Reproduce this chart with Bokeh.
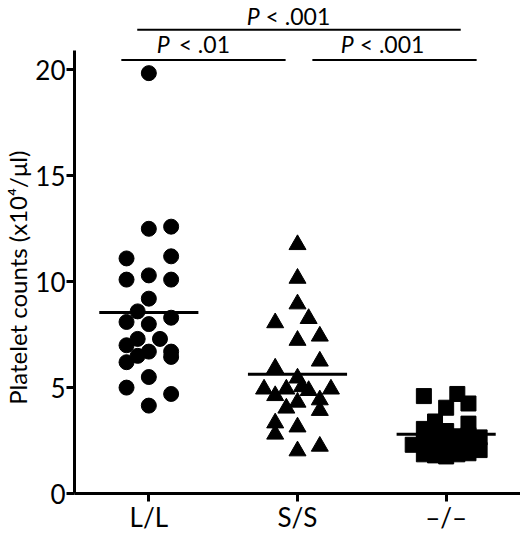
from bokeh.plotting import figure
from bokeh.models import ColumnDataSource, FixedTicker
from bokeh.core.properties import value
from bokeh.embed import file_html
from bokeh.resources import INLINE

FONT = "Lato"

# genotype groups (x positions 1, 2, 3)
groups = ["L/L", "S/S", "\u2013/\u2013"]
group_pos = [1, 2, 3]

# platelet counts (x10^4/ul), with the horizontal jitter
ll_counts = [19.85, 12.5, 12.6, 11.1, 11.2, 10.1, 10.3, 10.1, 9.2, 8.6, 8.1, 8.0, 8.3,
             7.3, 7.3, 7.0, 6.7, 6.5, 6.7, 6.45, 6.2, 5.5, 5.0, 4.7, 4.15]
ll_jitter = [0, 0, .15, -.15, .15, -.15, 0, .15, 0, -.075, -.15, 0, .15,
             -.075, .075, -.15, 0, -.075, .15, .15, -.15, 0, -.15, .15, 0]

ss_counts = [11.75, 10.16, 8.95, 8.26, 8.06, 7.43, 7.23, 6.25, 5.92, 5.45, 5.04, 4.93, 4.93,
             4.86, 4.93, 4.62, 4.42, 4.31, 4.03, 3.92, 3.33, 3.14, 2.80, 2.01, 2.23]
ss_jitter = [0, 0, 0, .075, -.15, .15, 0, .15, -.15, 0, .03, -.225, -.075,
             .075, .225, -.15, .15, 0, -.075, .15, -.15, 0, -.15, 0, .15]

ko_counts = [2.3, 4.6, 3.05, 2.5, 1.85, 3.4, 2.75, 2.2, 1.8, 4.05, 2.95, 2.45, 1.75,
             4.7, 2.7, 2.2, 1.85, 4.25, 3.3, 2.75, 2.3, 1.9, 2.65, 2.05, 2.6]
ko_jitter = [-.225, -.15, -.15, -.15, -.15, -.075, -.075, -.075, -.075, 0, 0, 0, 0,
             .075, .075, .075, .075, .15, .15, .15, .15, .15, .225, .225, .04]

group_means = [8.55, 5.63, 2.8]

# significance brackets
bracket_x0 = [0.922, 0.815, 2.100]
bracket_x1 = [3.098, 1.920, 3.205]
bracket_y = [21.9, 20.47, 20.47]
bracket_label_x = [1.745, 1.140, 2.378]
bracket_label_y = [22.56, 21.22, 21.22]
bracket_p = ["< .001", "< .01", "< .001"]

p = figure(width=520, height=535, x_range=(0.5, 3.5), y_range=(0, 23.28),
           output_backend="svg", toolbar_location=None,
           min_border_left=72, min_border_right=0, min_border_top=0, min_border_bottom=38)
p.background_fill_color = "white"
p.border_fill_color = "white"
p.outline_line_color = None
p.xgrid.grid_line_color = None
p.ygrid.grid_line_color = None

series = [(ll_counts, ll_jitter, "circle", 15),
          (ss_counts, ss_jitter, "triangle", 17),
          (ko_counts, ko_jitter, "square", 15)]
for g, (counts, jitter, marker, size) in zip(group_pos, series):
    src = ColumnDataSource(data={
        'x': [g + j for j in jitter],
        'y': counts
    })
    p.scatter('x', 'y', source=src, marker=marker, size=size,
              fill_color="black", line_color="black")

# mean lines
p.segment(x0=[g - 1/3 for g in group_pos], x1=[g + 1/3 for g in group_pos],
          y0=group_means, y1=group_means, line_color="black", line_width=3)

# brackets and P values
p.segment(x0=bracket_x0, x1=bracket_x1, y0=bracket_y, y1=bracket_y,
          line_color="black", line_width=2)
p.text(x=bracket_label_x, y=bracket_label_y, text=["P"] * 3, text_font=value(FONT),
       text_font_style="italic", text_font_size="23px", text_align="right",
       text_baseline="alphabetic", text_color="black")
p.text(x=bracket_label_x, y=bracket_label_y, text=bracket_p, x_offset=[6, 9, 6],
       text_font=value(FONT), text_font_size="23px", text_align="left",
       text_baseline="alphabetic", text_color="black")

for ax in (p.xaxis[0], p.yaxis[0]):
    ax.axis_line_width = 3
    ax.axis_line_color = "black"
    ax.major_tick_line_width = 3
    ax.major_tick_line_color = "black"
    ax.major_tick_out = 8
    ax.major_tick_in = 0
    ax.minor_tick_line_color = None
    ax.major_label_text_font = FONT
    ax.major_label_text_font_size = "26px"
    ax.major_label_text_color = "black"

p.xaxis.ticker = FixedTicker(ticks=group_pos)
p.xaxis.major_label_overrides = {g: name for g, name in zip(group_pos, groups)}
p.xaxis.major_label_standoff = -1

p.yaxis.ticker = FixedTicker(ticks=[0, 5, 10, 15, 20])
p.yaxis.bounds = (0, 20.9)
p.yaxis.major_label_standoff = 1
# trailing no-break spaces push the label down to the centre of the drawn axis
p.yaxis.axis_label = "Platelet counts (x10\u2074/\u03bcl)" + "\u00a0" * 10
p.yaxis.axis_label_text_font = FONT
p.yaxis.axis_label_text_font_style = "normal"
p.yaxis.axis_label_text_font_size = "24px"
p.yaxis.axis_label_text_color = "black"
p.yaxis.axis_label_standoff = 0

open("out.html", "w").write(file_html(p, INLINE))
